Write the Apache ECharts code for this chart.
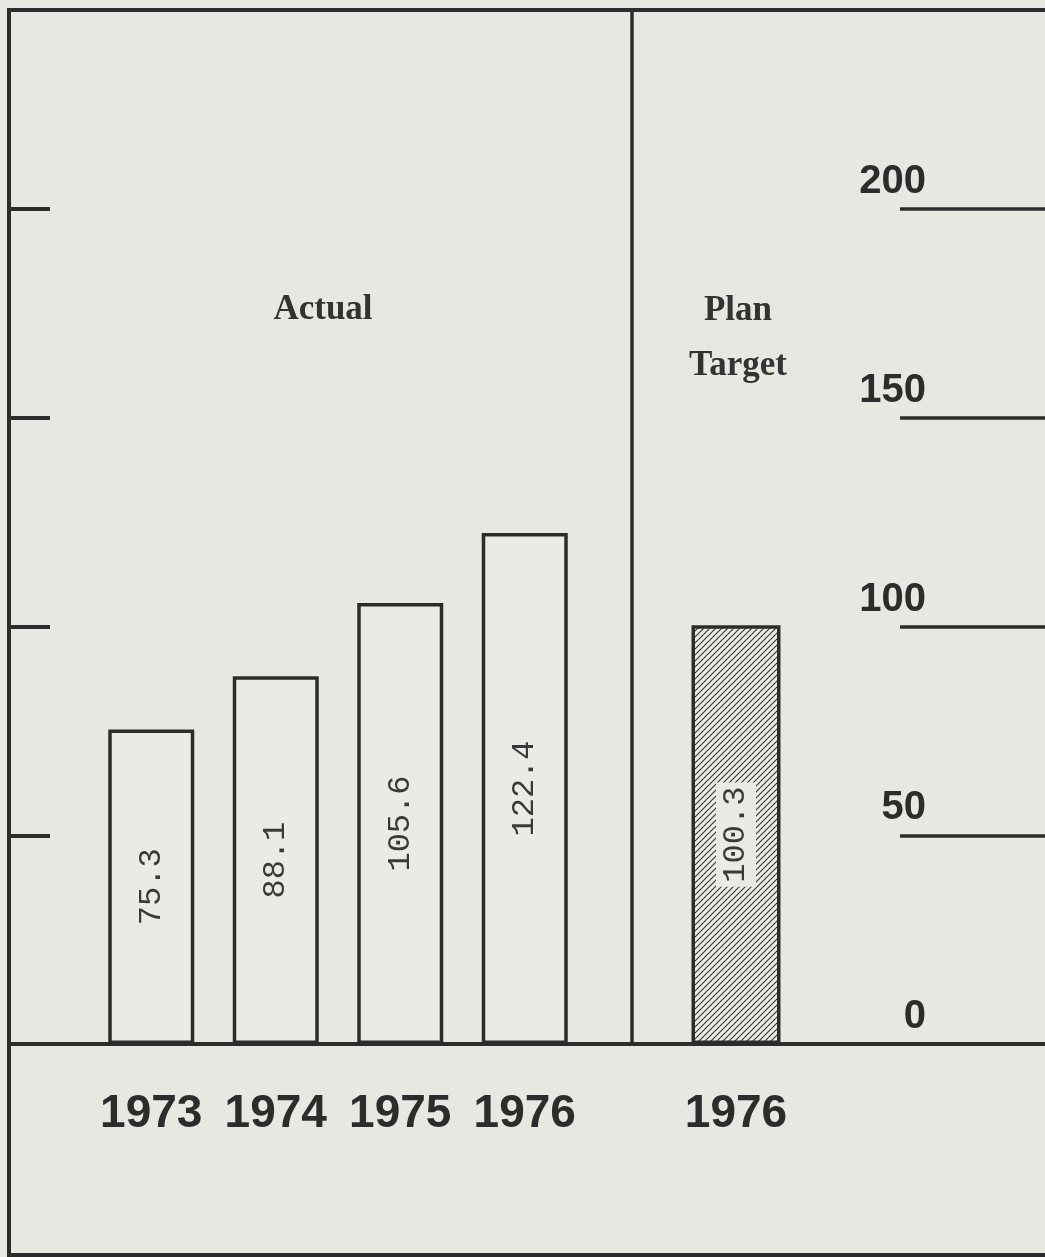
<!DOCTYPE html>
<html>
<head>
<meta charset="utf-8">
<script src="https://cdn.jsdelivr.net/npm/echarts@6/dist/echarts.min.js"></script>
<style>
  html, body { margin: 0; padding: 0; background: #e8e8e3; }
  #chart { width: 1045px; height: 1257px; }
</style>
</head>
<body>
<div id="chart"></div>
<script>
// data
var actualYears = ['1973', '1974', '1975', '1976'];
var actualValues = [75.3, 88.1, 105.6, 122.4];
var planYears = ['1976'];
var planValues = [100.3];
var yTicks = [0, 50, 100, 150, 200];

var ink = '#2c2c2c';
var paper = '#e8e8e3';

// hatch pattern for the plan bar
function makeHatch() {
    var c = document.createElement('canvas');
    c.width = 6; c.height = 6;
    var g = c.getContext('2d');
    g.fillStyle = '#ecece7';
    g.fillRect(0, 0, 6, 6);
    g.strokeStyle = '#3a3a3a';
    g.lineWidth = 1.2;
    g.beginPath();
    g.moveTo(-1, 7); g.lineTo(7, -1);
    g.moveTo(-1, 1); g.lineTo(1, -1);
    g.moveTo(5, 7); g.lineTo(7, 5);
    g.stroke();
    return c;
}

var chart = echarts.init(document.getElementById('chart'));

var numFont = "'Liberation Sans', Arial, sans-serif";
var serifFont = "'Liberation Serif', 'Times New Roman', serif";

var valueLabel = {
    show: true,
    position: 'inside',
    rotate: 90,
    fontFamily: "'Liberation Mono', 'DejaVu Sans Mono', monospace",
    fontSize: 32,
    color: '#3a3a3a'
};

var yearLabel = {
    interval: 0, margin: 47,
    fontFamily: numFont, fontWeight: 'bold', fontSize: 46, lineHeight: 46, color: ink
};

var option = {
    backgroundColor: paper,
    animation: false,
    title: [
        { text: 'Actual', left: 323, top: 292, textAlign: 'center', padding: 0,
          textStyle: { fontFamily: serifFont, fontWeight: 'bold', fontSize: 35, color: '#333' } },
        { text: 'Plan\nTarget', left: 738, top: 283, textAlign: 'center', padding: 0,
          textStyle: { fontFamily: serifFont, fontWeight: 'bold', fontSize: 35, lineHeight: 55, color: '#333' } }
    ],
    grid: [
        { left: 89, width: 498, top: 209, bottom: 213 },
        { left: 632, width: 208, top: 209, bottom: 213 }
    ],
    xAxis: [
        { type: 'category', gridIndex: 0, data: actualYears,
          axisLine: { show: false }, axisTick: { show: false }, axisLabel: yearLabel },
        { type: 'category', gridIndex: 1, data: planYears,
          axisLine: { show: false }, axisTick: { show: false }, axisLabel: yearLabel }
    ],
    yAxis: [
        { type: 'value', gridIndex: 0, min: 0, max: 200, interval: 50, position: 'left', offset: 79,
          splitLine: { show: false }, axisLine: { show: false },
          axisTick: { show: true, inside: true, length: 40, lineStyle: { color: ink, width: 4 } },
          axisLabel: { show: false } },
        { type: 'value', gridIndex: 1, min: 0, max: 200, interval: 50, position: 'right', offset: 60,
          splitLine: { show: false }, axisLine: { show: false },
          axisTick: { show: true, inside: false, length: 145, lineStyle: { color: ink, width: 3.5 } },
          axisLabel: {
              inside: true, margin: -26, align: 'right', verticalAlign: 'bottom',
              padding: [0, 0, 7, 0], lineHeight: 40,
              fontFamily: numFont, fontWeight: 'bold', fontSize: 40, color: ink,
              formatter: function (v) { return yTicks.indexOf(v) >= 0 ? String(v) : ''; }
          } }
    ],
    series: [
        { type: 'bar', xAxisIndex: 0, yAxisIndex: 0, data: actualValues, barWidth: 86,
          itemStyle: { color: '#ebebe6', borderColor: ink, borderWidth: 3.5 },
          label: valueLabel },
        { type: 'bar', xAxisIndex: 1, yAxisIndex: 1, data: planValues, barWidth: 89,
          itemStyle: { color: { image: makeHatch(), repeat: 'repeat' }, borderColor: ink, borderWidth: 3.5 },
          label: Object.assign({}, valueLabel, { backgroundColor: '#ebebe6', padding: [4, 4, 4, 4] }) }
    ],
    // frame, baseline and divider of the scanned sheet
    graphic: [
        { type: 'line', shape: { x1: 7, y1: 10, x2: 1045, y2: 10 }, style: { stroke: ink, lineWidth: 4 } },
        { type: 'line', shape: { x1: 9, y1: 8, x2: 9, y2: 1257 }, style: { stroke: ink, lineWidth: 4 } },
        { type: 'line', shape: { x1: 7, y1: 1255, x2: 1045, y2: 1255 }, style: { stroke: ink, lineWidth: 4 } },
        { type: 'line', shape: { x1: 9, y1: 1044, x2: 1045, y2: 1044 }, style: { stroke: ink, lineWidth: 4 } },
        { type: 'line', shape: { x1: 632, y1: 10, x2: 632, y2: 1044 }, style: { stroke: ink, lineWidth: 3.5 } }
    ]
};

chart.setOption(option);
</script>
</body>
</html>
